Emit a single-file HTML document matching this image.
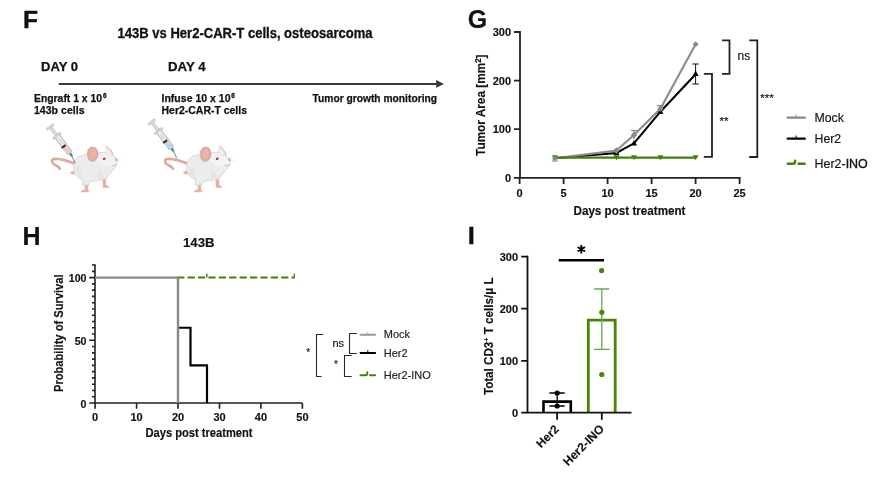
<!DOCTYPE html>
<html><head><meta charset="utf-8">
<style>
html,body{margin:0;padding:0;background:#fff;}
svg{display:block;will-change:transform;}
text{font-family:"Liberation Sans",sans-serif;}
text:not([fill]){fill:#111;}
text:not([stroke-width]){stroke:#111;stroke-width:0.15px;}
.b{font-weight:bold;}
</style></head>
<body>
<svg width="874" height="477" viewBox="0 0 874 477">
<rect width="874" height="477" fill="#fff"/>

<!-- ============ PANEL F ============ -->
<text class="b" x="23" y="27.8" font-size="24.5" stroke="#111" stroke-width="0.4">F</text>
<text class="b" x="117.5" y="37.8" font-size="13.8" stroke="#111" stroke-width="0.3" textLength="255" lengthAdjust="spacingAndGlyphs">143B vs Her2-CAR-T cells, osteosarcoma</text>
<text class="b" stroke="#111" stroke-width="0.25" x="41" y="71.2" font-size="13" textLength="37" lengthAdjust="spacingAndGlyphs">DAY 0</text>
<text class="b" stroke="#111" stroke-width="0.25" x="168" y="71.2" font-size="13" textLength="37.5" lengthAdjust="spacingAndGlyphs">DAY 4</text>
<line x1="58.8" y1="83.9" x2="438" y2="83.9" stroke="#3a3a3a" stroke-width="2"/>
<path d="M436.2 80.1 L444 83.9 L436.2 87.7 Z" fill="#3a3a3a"/>
<text class="b" stroke="#111" stroke-width="0.25" x="34" y="102" font-size="11" textLength="68" lengthAdjust="spacingAndGlyphs">Engraft 1 x 10</text>
<text class="b" x="103.1" y="97.8" font-size="6.4" stroke="#111" stroke-width="0.3">6</text>
<text class="b" stroke="#111" stroke-width="0.25" x="34" y="114.3" font-size="11" textLength="50.5" lengthAdjust="spacingAndGlyphs">143b cells</text>
<text class="b" stroke="#111" stroke-width="0.25" x="161.5" y="101.7" font-size="11" textLength="69" lengthAdjust="spacingAndGlyphs">Infuse 10 x 10</text>
<text class="b" x="231.3" y="97.8" font-size="6.4" stroke="#111" stroke-width="0.3">6</text>
<text class="b" stroke="#111" stroke-width="0.25" x="161.5" y="113.7" font-size="11" textLength="85.5" lengthAdjust="spacingAndGlyphs">Her2-CAR-T cells</text>
<text class="b" stroke="#111" stroke-width="0.25" x="312.5" y="101.7" font-size="11" textLength="124.5" lengthAdjust="spacingAndGlyphs">Tumor growth monitoring</text>


<!-- mice -->
<defs>
 <g id="mouse">
  <path d="M74.5 163.5 C69 161.5 62 159 55.5 158.8 C51 158.8 51.2 162.5 53.8 164.2 C56.5 165.8 59.5 166.5 59.8 168.8" fill="none" stroke="#d49a8e" stroke-width="2.4" stroke-linecap="round"/>
  <path d="M74.5 163.5 C69 161.5 62 159 55.5 158.8 C51 158.8 51.2 162.5 53.8 164.2 C56.5 165.8 59.5 166.5 59.8 168.8" fill="none" stroke="#eab8ad" stroke-width="1" stroke-linecap="round"/>
  <path d="M70 172.8 C71 171 73.5 170.8 76 171.2 L76.2 174 C73.5 174.6 71.2 174.3 70 172.8 Z" fill="#e8b0a4"/>
  <path d="M84.5 183 L84.8 189.2 C82.5 189.8 80.8 191 81 192.2 L88.8 192.2 C89.2 191 88.5 190 88 189.3 L88.5 183 Z" fill="#e8b0a4"/>
  <path d="M102.3 178.5 L102.8 184.8 C102.5 185.6 102.8 187.2 103.3 187.8 L109.2 187.8 C109.4 186.8 108.2 185.8 106.2 185 L106 178.5 Z" fill="#e8b0a4"/>
  <path d="M74 163.3 C75 158.5 79.5 155.5 86.5 154.5 C90 154 93.5 153.3 96.6 153.8 C100 152.2 103 152.2 105.4 152.6 C109.5 153.3 113 155.5 115.5 157.8 L117.8 159.8 C117.9 161.8 117.2 164 116.3 165.5 C113.5 169.5 109 174.5 106 179 L101.7 179.7 C97 180.5 92 181.5 89 182 L88.6 185.2 L82.6 185.2 L82.6 180 C78.5 178 75.2 175.5 74.2 172 C73.3 169 73.3 166 74 163.3 Z" fill="#ececec" stroke="#c4c4c4" stroke-width="0.6"/>
  <path d="M75.5 169 C77.5 175 80 178.5 83 180 C81.5 175 80 170 79.5 165 Z" fill="#e4e4e4"/>
  <path d="M98 168 C100.5 170 103 173.5 104 177 C102 178.5 99.5 179.5 97 180 C98.5 176 98.8 172 98 168 Z" fill="#e5e5e5"/>
  <path d="M97 155 C101 153 106 153 110 155 C114 157.5 117 159.5 117.5 161 C116.5 164 113 166 109 166.5 C104 166.8 99 164 97 160 Z" fill="#f3f3f3"/>
  <path d="M87.3 155.5 C86.8 151 88.5 147.2 92.5 147 C96.5 146.9 98.3 150.5 98 154.5 C97.7 158 96 161 92.5 161.3 C89.5 161.5 87.7 159 87.3 155.5 Z" fill="#e3a99c" stroke="#d39b90" stroke-width="0.5"/>
  <path d="M89.5 155 C89.3 152 90.5 149.5 92.8 149.3 C95.3 149.2 96.2 152 96 154.5 C95.7 157 94.5 159 92.6 159.2 C90.8 159.3 89.7 157.5 89.5 155 Z" fill="#e9b4a8"/>
  <path d="M105 152.8 L106.1 145.9 C109 147.5 112 150.5 113.2 155.4 C110 155.8 107 154.8 105 152.8 Z" fill="#eeeeee" stroke="#d6d6d6" stroke-width="0.4"/>
  <path d="M106.6 146.6 C109.5 148.5 112 151.5 113 155" fill="none" stroke="#dba195" stroke-width="0.9"/>
  <ellipse cx="104.2" cy="158.7" rx="1.5" ry="1.1" fill="#b52a24" transform="rotate(-20 104.2 158.7)"/>
  <circle cx="116.2" cy="159.8" r="1.4" fill="#e4a59a"/>
  <path d="M111.6 165.3 C113.5 165.6 115.5 165.2 116.7 164.3" fill="none" stroke="#999" stroke-width="0.6"/>
  <path d="M117.5 158.5 L122 156.8 M117.5 160.8 L122.5 161.5" stroke="#dddddd" stroke-width="0.4"/>
 </g>
 <g id="syringe">
  <path d="M50.1 127 L57.3 136" stroke="#b4b4b4" stroke-width="3"/>
  <path d="M50.1 127 L57.3 136" stroke="#e6e6e6" stroke-width="1.8"/>
  <path d="M47.5 129 L52.7 125" stroke="#b4b4b4" stroke-width="2.6" stroke-linecap="round"/>
  <path d="M47.5 129 L52.7 125" stroke="#e2e2e2" stroke-width="1.4" stroke-linecap="round"/>
  <path d="M53.9 138.2 L60.1 133.5" stroke="#b0b0b0" stroke-width="2.4" stroke-linecap="round"/>
  <path d="M53.9 138.2 L60.1 133.5" stroke="#dedede" stroke-width="1.2" stroke-linecap="round"/>
  <path d="M57.6 136.6 L70.2 153.4" stroke="#a8a8a8" stroke-width="6"/>
  <path d="M57.6 136.6 L70.2 153.4" stroke="#ececec" stroke-width="4.6"/>
  <path d="M59 138.5 L63 143.8" stroke="#d4d4d4" stroke-width="1.2"/>
  <path d="M64 147.2 L69.8 152.9" style="stroke:var(--c)" stroke-width="4.6"/>
  <path d="M63 145.8 L64.2 147.4" stroke="#2a2a2a" stroke-width="4.8"/>
  <path d="M70 153.2 L72 156.4" stroke="#3a9a90" stroke-width="2.4"/>
  <path d="M72 156.4 L75.2 163.2" stroke="#4a4a4a" stroke-width="0.7"/>
 </g>
</defs>
<use href="#mouse"/>
<use href="#mouse" transform="translate(113,0)"/>
<use href="#syringe" style="--c:#f4c6c4"/>
<use href="#syringe" transform="translate(101.5,-5)" style="--c:#bcd6ee"/>

<!-- ============ PANEL G ============ -->
<text class="b" x="467.8" y="28.1" font-size="25">G</text>
<g stroke="#222" stroke-width="1.8" fill="none">
  <path d="M520 31 V177.8 H740.5"/>
  <path d="M514 32 H520 M514 80.6 H520 M514 129.2 H520 M514 177.8 H520"/>
  <path d="M519.6 177.8 V184 M563.6 177.8 V184 M607.6 177.8 V184 M651.6 177.8 V184 M695.6 177.8 V184 M739.6 177.8 V184"/>
</g>
<g class="b" font-size="11" text-anchor="end">
  <text class="b" x="511" y="36">300</text>
  <text class="b" x="511" y="84.6">200</text>
  <text class="b" x="511" y="133.2">100</text>
  <text class="b" x="511" y="181.8">0</text>
</g>
<g font-size="11" text-anchor="middle">
  <text class="b" x="519.6" y="197">0</text>
  <text class="b" x="563.6" y="197">5</text>
  <text class="b" x="607.6" y="197">10</text>
  <text class="b" x="651.6" y="197">15</text>
  <text class="b" x="695.6" y="197">20</text>
  <text class="b" x="739.6" y="197">25</text>
</g>
<text class="b" x="573.5" y="215" font-size="12.3" textLength="112" lengthAdjust="spacingAndGlyphs">Days post treatment</text>
<text class="b" transform="translate(485.3,155.9) rotate(-90)" font-size="12.6" textLength="101.4" lengthAdjust="spacingAndGlyphs">Tumor Area [mm<tspan font-size="8.5" dy="-4.5">2</tspan><tspan dy="4.5">]</tspan></text>

<!-- data G -->
<polyline points="554.8,158.2 616.4,153 634,143.3 660.4,111.7 695.6,74.3" fill="none" stroke="#000" stroke-width="2.1"/>
<polyline points="554.8,158.4 616.4,150.6 634,135 660.4,108.8 695.6,44.2" fill="none" stroke="#8c8c8c" stroke-width="2.1"/>
<line x1="554.8" y1="157.7" x2="695.6" y2="157.7" stroke="#428008" stroke-width="2.3"/>
<!-- error bars -->
<g stroke="#111" stroke-width="1">
  <path d="M695.6 64 V84 M692.4 64 H698.8 M692.4 84 H698.8"/>
</g>
<g stroke="#888" stroke-width="1.2">
  <path d="M634 130.5 V139.5 M630.8 130.5 H637.2 M660.4 105.7 V112 M657.2 105.7 H663.6 M551.8 161 H557.8"/>
</g>
<!-- markers -->
<g fill="#428008">
  <path d="M551.8 155.3 H557.8 L554.8 160.3 Z"/>
  <path d="M613.4 155.3 H619.4 L616.4 160.3 Z"/>
  <path d="M631 155.3 H637 L634 160.3 Z"/>
  <path d="M657.4 155.3 H663.4 L660.4 160.3 Z"/>
  <path d="M692.6 155.3 H698.6 L695.6 160.3 Z"/>
</g>
<g fill="#000">
  <path d="M692.6 76 H698.6 L695.6 70.5 Z"/>
  <path d="M657.4 114 H663.4 L660.4 108.5 Z"/>
  <path d="M631 145.5 H637 L634 140 Z"/>
  <path d="M613.4 155 H619.4 L616.4 149.5 Z"/>
</g>
<g fill="#888">
  <path d="M695.6 41.2 L698.6 44.2 L695.6 47.2 L692.6 44.2 Z"/>
  <path d="M660.4 105.5 L663.6 108.8 L660.4 112.1 L657.2 108.8 Z"/>
  <path d="M634 131.7 L637.2 135 L634 138.3 L630.8 135 Z"/>
  <path d="M616.4 147.3 L619.6 150.6 L616.4 153.9 L613.2 150.6 Z"/><path d="M554.8 155.8 L557.6 158.6 L554.8 161.4 L552 158.6 Z"/>
</g>
<!-- significance brackets G -->
<g stroke="#222" stroke-width="1.8" fill="none">
  <path d="M722 40.3 H729.5 V73.8 H722"/>
  <path d="M703.8 73.8 H712 V156.8 H703.8"/>
  <path d="M749.2 40.3 H757.3 V157 H749.2"/>
</g>
<text x="737.5" y="60" font-size="12">ns</text>
<text x="719.5" y="125.2" font-size="11.5">**</text>
<text x="760.3" y="102.2" font-size="11.5">***</text>
<!-- legend G -->
<line x1="787.8" y1="117.6" x2="804.7" y2="117.6" stroke="#888" stroke-width="2.4" stroke-linecap="round"/><line x1="796.2" y1="117" x2="796.2" y2="114.5" stroke="#999" stroke-width="1"/>
<line x1="787.8" y1="138.6" x2="804.7" y2="138.6" stroke="#000" stroke-width="2.4" stroke-linecap="round"/><line x1="796.2" y1="138" x2="796.2" y2="135.5" stroke="#000" stroke-width="1"/>
<path d="M787.8 163.8 H793 Q795 163.8 795 161.8 V160.8 M798.5 163.8 H804.7" stroke="#428008" stroke-width="2.4" fill="none" stroke-linecap="round"/>
<text x="814.5" y="122" font-size="12.3">Mock</text>
<text x="814.5" y="143" font-size="12.3">Her2</text>
<text x="814.5" y="168.2" font-size="12.3" textLength="53.3" lengthAdjust="spacingAndGlyphs">Her2<tspan stroke="#111" stroke-width="0.35">-INO</tspan></text>

<!-- ============ PANEL H ============ -->
<text class="b" x="22.5" y="244.7" font-size="25">H</text>
<text class="b" x="183" y="246.8" font-size="13.2">143B</text>
<g stroke="#222" stroke-width="1.6" fill="none">
  <path d="M95 264.26 V403.0 H302.4"/>
  <path d="M89.2 403.0 H95 M89.2 340.3 H95 M89.2 277.6 H95"/>
  <path d="M92 396.73 H95 M92 390.46 H95 M92 384.19 H95 M92 377.92 H95 M92 371.65 H95 M92 365.38 H95 M92 359.11 H95 M92 352.84 H95 M92 346.57 H95 M92 334.03 H95 M92 327.76 H95 M92 321.49 H95 M92 315.22 H95 M92 308.95 H95 M92 302.68 H95 M92 296.41 H95 M92 290.14 H95 M92 283.87 H95 M92 271.33 H95 M92 265.06 H95"/>
  <path d="M95.1 403.0 V408.7 M136.6 403.0 V408.7 M178 403.0 V408.7 M219.5 403.0 V408.7 M260.9 403.0 V408.7 M302.4 403.0 V408.7"/>
</g>
<g font-size="10.6" text-anchor="end">
  <text class="b" x="86.5" y="281.8">100</text>
  <text class="b" x="86.5" y="344.6">50</text>
  <text class="b" x="86.5" y="407.6">0</text>
</g>
<g font-size="11" text-anchor="middle">
  <text class="b" x="95.1" y="420.5">0</text>
  <text class="b" x="136.6" y="420.5">10</text>
  <text class="b" x="178" y="420.5">20</text>
  <text class="b" x="219.5" y="420.5">30</text>
  <text class="b" x="260.9" y="420.5">40</text>
  <text class="b" x="302.4" y="420.5">50</text>
</g>
<text class="b" x="145.5" y="437" font-size="12" textLength="107" lengthAdjust="spacingAndGlyphs">Days post treatment</text>
<text class="b" transform="translate(62.8,392) rotate(-90)" font-size="12" textLength="117.6" lengthAdjust="spacingAndGlyphs">Probability of Survival</text>
<!-- data H -->
<path d="M178 327.76 H190.5 V365.38 H207 V403.0" stroke="#000" stroke-width="2.2" fill="none"/>
<path d="M177.2 277.6 H294.8" stroke="#428008" stroke-width="2" stroke-dasharray="7.2 3.2" fill="none"/>
<path d="M206.8 277.6 V273.5 M294.3 277.6 V273.5" stroke="#428008" stroke-width="1.4"/>
<path d="M95 277.6 H178 V403.0" stroke="#888" stroke-width="2.4" fill="none"/>

<!-- legend H -->
<g stroke="#2a2a2a" stroke-width="1.1" fill="none">
  <path d="M323.3 334.5 H316.5 V376.5 H321.6"/>
  <path d="M356.8 333.5 H349.5 V353.5 H356.8"/>
  <path d="M351.6 355.5 H344.5 V376.5 H351.6"/>
</g>
<text x="306.3" y="356" font-size="10">*</text>
<text x="334" y="367.8" font-size="10">*</text>
<text x="332.5" y="347" font-size="11">ns</text>
<line x1="360.5" y1="334.8" x2="375.2" y2="334.8" stroke="#999" stroke-width="2" stroke-linecap="round"/><line x1="367.8" y1="334" x2="367.8" y2="331.8" stroke="#aaa" stroke-width="0.9"/>
<line x1="360.5" y1="353" x2="375.2" y2="353" stroke="#000" stroke-width="2" stroke-linecap="round"/><line x1="367.8" y1="352.2" x2="367.8" y2="350" stroke="#000" stroke-width="0.9"/>
<path d="M360.5 375.3 H365.5 Q367.3 375.3 367.3 373.5 V372.2 M370 375.3 H375.2" stroke="#428008" stroke-width="2" fill="none" stroke-linecap="round"/>
<text x="383.8" y="338.3" font-size="11" fill="#222">Mock</text>
<text x="383.8" y="356.7" font-size="11" fill="#222">Her2</text>
<text x="383.8" y="379" font-size="11.1" fill="#222" textLength="47" lengthAdjust="spacingAndGlyphs">Her2-INO</text>

<!-- ============ PANEL I ============ -->
<text class="b" x="468" y="243.9" font-size="24" stroke="#000" stroke-width="0.5">I</text>
<!-- bars -->
<path d="M543.5 412.7 V401.6 H570.8 V412.7" fill="none" stroke="#000" stroke-width="2.6"/>
<path d="M588.3 412.5 V320.2 H615.2 V412.5" fill="none" stroke="#468508" stroke-width="2.8"/>
<g stroke="#000" stroke-width="1.3">
  <path d="M557.2 393 V406 M549.4 393 H564.7 M549.4 406 H564.7"/>
</g>
<g stroke="#6aa84a" stroke-width="1.3">
  <path d="M601.8 289 V349.4 M594.2 289 H609.2 M594 349.4 H609.8"/>
</g>
<g fill="#000"><circle cx="557.2" cy="393" r="2.6"/><circle cx="557.2" cy="406" r="2.6"/></g>
<g fill="#468508"><circle cx="601.6" cy="270.6" r="2.6"/><circle cx="601.8" cy="312.3" r="2.6"/><circle cx="601.8" cy="374.5" r="2.6"/></g>
<g stroke="#111" stroke-width="1.8" fill="none">
  <path d="M527.5 255.7 V412.7 H631.5"/>
  <path d="M521.2 256.6 H527.5 M521.2 308.7 H527.5 M521.2 360.9 H527.5 M521.2 412.7 H527.5"/>
  <path d="M557.1 412.7 V419.7 M601.8 412.7 V419.7"/>
</g>
<g font-size="11" text-anchor="end">
  <text class="b" x="518" y="260.5">300</text>
  <text class="b" x="518" y="312.5">200</text>
  <text class="b" x="518" y="364.5">100</text>
  <text class="b" x="518" y="416.5">0</text>
</g>
<text class="b" transform="translate(493.3,395.1) rotate(-90)" font-size="12.5" textLength="117.7" lengthAdjust="spacingAndGlyphs">Total CD3<tspan font-size="8" dy="-4.5">+</tspan><tspan dy="4.5"> T cells/μ L</tspan></text>
<text class="b" transform="translate(541,448.5) rotate(-45)" font-size="11.8">Her2</text>
<text class="b" transform="translate(568,466.5) rotate(-45)" font-size="12">Her2-INO</text>
<line x1="558.7" y1="260.2" x2="604" y2="260.2" stroke="#000" stroke-width="2.4"/>
<path d="M581.3 245.6 V252.8 M578.2 247.4 L584.4 251 M578.2 251 L584.4 247.4" stroke="#000" stroke-width="1.8" stroke-linecap="round"/><circle cx="581.3" cy="249.2" r="1.6" fill="#000"/>

</svg>
</body></html>
